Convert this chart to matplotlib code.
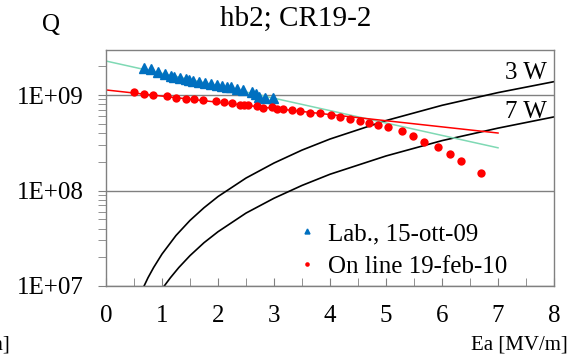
import numpy as np
import matplotlib
matplotlib.use("Agg")
import matplotlib.pyplot as plt
from matplotlib.ticker import MultipleLocator, LogLocator, NullFormatter, FixedLocator

plt.rcParams["font.family"] = ["Liberation Serif", "DejaVu Serif"]

# Misure in laboratorio (triangoli blu)
lab_ea = [0.68, 0.80, 0.92, 1.05, 1.16, 1.22, 1.32, 1.42, 1.49, 1.55, 1.66, 1.77,
          1.87, 1.98, 2.07, 2.16, 2.24, 2.34, 2.45, 2.60, 2.68, 2.74, 2.84, 2.98]
lab_q = [1.90e9, 1.88e9, 1.75e9, 1.65e9, 1.59e9, 1.53e9, 1.50e9, 1.47e9, 1.44e9,
         1.40e9, 1.38e9, 1.35e9, 1.29e9, 1.27e9, 1.24e9, 1.22e9, 1.20e9, 1.16e9,
         1.13e9, 1.07e9, 1.02e9, 0.96e9, 0.94e9, 0.92e9]

# Misure on line (cerchi rossi)
online_ea = [0.50, 0.68, 0.84, 1.09, 1.25, 1.43, 1.57, 1.73, 1.96, 2.11, 2.25, 2.39,
             2.47, 2.54, 2.70, 2.80, 2.96, 3.05, 3.16, 3.32, 3.46, 3.64, 3.82, 4.02,
             4.18, 4.36, 4.54, 4.70, 4.86, 5.04, 5.29, 5.48, 5.68, 5.93, 6.14, 6.34, 6.70]
online_q = [1.07e9, 1.03e9, 1.01e9, 9.77e8, 9.31e8, 9.15e8, 9.02e8, 8.93e8, 8.65e8,
            8.45e8, 8.30e8, 7.91e8, 7.91e8, 7.91e8, 7.67e8, 7.31e8, 7.48e8, 7.19e8,
            7.08e8, 6.92e8, 6.80e8, 6.53e8, 6.43e8, 6.18e8, 5.93e8, 5.61e8, 5.35e8,
            5.13e8, 4.85e8, 4.66e8, 4.23e8, 3.75e8, 3.25e8, 2.83e8, 2.41e8, 2.05e8, 1.54e8]

# Rette di fit (estremi)
fit_lab_ea = [0.0, 7.0]
fit_lab_q = [2.27e9, 2.8e8]
fit_online_ea = [0.0, 7.0]
fit_online_q = [1.13e9, 4.0e8]

# Curve a potenza costante
w3_ea = [0.68, 0.75, 0.85, 1.0, 1.25, 1.5, 1.75, 2.0, 2.5, 3.0, 3.5, 4.0, 5.0, 6.0, 7.0, 8.0]
w3_q = [1.0e7, 1.22e7, 1.56e7, 2.16e7, 3.38e7, 4.86e7, 6.6e7, 8.64e7, 1.35e8, 1.94e8,
        2.65e8, 3.46e8, 5.4e8, 7.8e8, 1.06e9, 1.38e9]
w7_ea = [1.04, 1.15, 1.3, 1.5, 1.75, 2.0, 2.5, 3.0, 3.5, 4.0, 5.0, 6.0, 7.0, 8.0]
w7_q = [1.0e7, 1.22e7, 1.56e7, 2.08e7, 2.84e7, 3.7e7, 5.8e7, 8.3e7, 1.13e8, 1.48e8,
        2.3e8, 3.33e8, 4.5e8, 5.9e8]

fig = plt.figure(figsize=(5.83, 3.57), dpi=100)
ax = fig.add_axes([0.1818, 0.1989, 0.7685, 0.661])

gray = "#808080"

ax.plot(w3_ea, w3_q, color="black", lw=1.2)
ax.plot(w7_ea, w7_q, color="black", lw=1.2)
ax.plot(fit_lab_ea, fit_lab_q, color="#7fd9b4", lw=1.1)
ax.plot(fit_online_ea, fit_online_q, color="#ff0000", lw=1.1)

ax.plot(lab_ea, lab_q, linestyle="none", marker="^", color="#0070c0",
        markersize=6.5, label="Lab., 15-ott-09")
ax.plot(online_ea, online_q, linestyle="none", marker="o", color="#ff0000",
        markersize=6, markeredgewidth=0, label="On line 19-feb-10")

ax.set_yscale("log")
ax.set_xlim(0, 8)
ax.set_ylim(1e7, 2.96e9)

ax.xaxis.set_major_locator(MultipleLocator(1))
ax.xaxis.set_minor_locator(MultipleLocator(0.5))
ax.yaxis.set_major_locator(FixedLocator([1e7, 1e8, 1e9]))
ax.yaxis.set_minor_locator(LogLocator(base=10, subs=np.arange(2, 10)))
ax.yaxis.set_minor_formatter(NullFormatter())
ax.set_yticklabels(["1E+07", "1E+08", "1E+09"])

ax.tick_params(axis="x", which="both", direction="in", length=6, color=gray,
               labelsize=18, pad=14)
ax.tick_params(axis="y", which="both", direction="out", length=6, color=gray,
               labelsize=18, pad=10)

for s in ax.spines.values():
    s.set_color(gray)
    s.set_linewidth(1.0)

ax.grid(True, which="major", axis="y", color=gray, lw=1.0)
ax.set_axisbelow(True)

ax.text(7.88, 1.70e9, "3 W", ha="right", va="center", fontsize=18)
ax.text(7.88, 6.64e8, "7 W", ha="right", va="center", fontsize=18)

fig.text(0.508, 0.948, "hb2; CR19-2", ha="center", va="center", fontsize=21)
fig.text(0.087, 0.93, "Q", ha="center", va="center", fontsize=18)
fig.text(0.973, 0.033, "Ea [MV/m]", ha="right", va="center", fontsize=15)
fig.text(0.017, 0.033, "Ea [MV/m]", ha="right", va="center", fontsize=15)

ax.legend(loc="lower left", bbox_to_anchor=(0.37, -0.06), frameon=False,
          fontsize=18, markerscale=0.55, handletextpad=0.35, handlelength=1.0,
          labelspacing=0.4)

fig.savefig("out.png", dpi=100)
